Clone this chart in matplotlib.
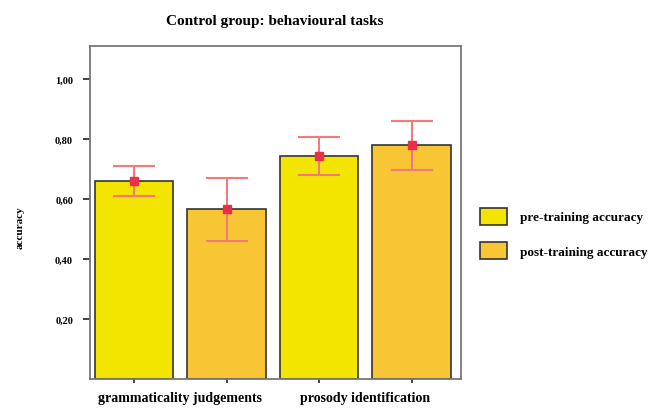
import matplotlib
matplotlib.use('Agg')
import matplotlib.pyplot as plt
from matplotlib.patches import Patch

plt.rcParams['font.family'] = ['Liberation Serif', 'DejaVu Serif']
plt.rcParams['font.weight'] = 'bold'

# data
tasks = ['grammaticality judgements', 'prosody identification']
conditions = ['pre-training accuracy', 'post-training accuracy']
means = [0.659, 0.567, 0.743, 0.780]   # pre/post for task 1, then task 2
err_hi = [0.710, 0.671, 0.807, 0.860]
err_lo = [0.609, 0.460, 0.679, 0.698]
yticks = [0.2, 0.4, 0.6, 0.8, 1.0]
ytick_labels = ['0,20', '0,40', '0,60', '0,80', '1,00']
colors = ['#f3e500', '#f8c634']

fig = plt.figure(figsize=(6.6, 4.1), dpi=100)
ax = fig.add_axes([0.136, 0.073, 0.562, 0.812])

x = list(range(len(means)))
bar_colors = [colors[i % 2] for i in x]
ax.bar(x, means, width=0.85, color=bar_colors, edgecolor='#333333', linewidth=1.2, zorder=2)

yerr = [[m - lo for m, lo in zip(means, err_lo)], [hi - m for m, hi in zip(means, err_hi)]]
ax.errorbar(x, means, yerr=yerr, fmt='none', ecolor='#f27a7a', elinewidth=1.5,
            capsize=15, capthick=1.5, zorder=3)
ax.plot(x, means, 's', color='#e8304c', markersize=6, zorder=4)

ax.set_xlim(-0.48, 3.53)
ax.set_ylim(0, 1.11)
ax.set_yticks(yticks)
ax.set_yticklabels(ytick_labels, fontsize=7.5, fontweight='bold')
ax.set_xticks(x)
ax.set_xticklabels([])
ax.tick_params(axis='y', length=5, width=1.2, color='#222222', pad=7)
ax.tick_params(axis='x', length=3, width=1.2, color='#222222')
for s in ax.spines.values():
    s.set_color('#777777')
    s.set_linewidth(1.3)

for i, t in enumerate(tasks):
    ax.text(2 * i + 0.5, -0.035, t, ha='center', va='top', fontsize=10,
            fontweight='bold', transform=ax.get_xaxis_transform())

fig.text(0.417, 0.948, 'Control group: behavioural tasks', ha='center', va='center',
         fontsize=11, fontweight='bold')
fig.text(0.031, 0.445, 'accuracy', rotation=90, ha='center', va='center',
         fontsize=8, fontweight='bold')

handles = [Patch(facecolor=c, edgecolor='#333333', linewidth=1.2) for c in colors]
fig.legend(handles, conditions, loc='upper left', bbox_to_anchor=(0.71, 0.52),
           frameon=False, handlelength=2.0, handleheight=1.6,
           labelspacing=1.35, handletextpad=1.0, prop={'weight': 'bold', 'size': 9.5})

fig.savefig('out.png', dpi=100, facecolor='white')
